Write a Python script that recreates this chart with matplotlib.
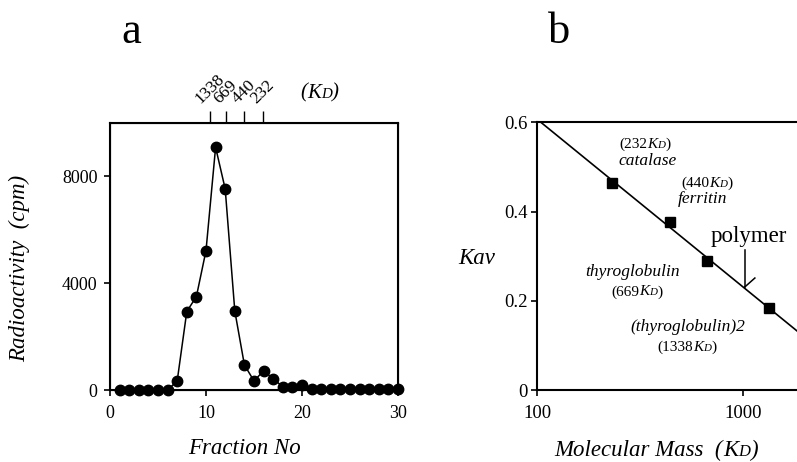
import numpy as np
import matplotlib
matplotlib.use('Agg')
import matplotlib.pyplot as plt
from matplotlib.ticker import NullLocator, FixedLocator, FixedFormatter
from matplotlib.offsetbox import TextArea, HPacker, AnnotationBbox

plt.rcParams['font.family'] = ['Liberation Serif', 'DejaVu Serif']

# panel a: gel filtration profile
fraction = np.arange(1, 31)
cpm = [0, 0, 0, 0, 0, 0, 340, 2940, 3500, 5220, 9090, 7530, 2960, 940, 340,
       720, 420, 125, 100, 190, 30, 30, 30, 30, 30, 30, 30, 30, 30, 30]
marker_fraction = [10.4, 12.05, 14.0, 15.9]
marker_label = ['1338', '669', '440', '232']

# panel b: calibration
std_mass = [232, 440, 669, 1338]
std_kav = [0.465, 0.376, 0.290, 0.183]
std_name = [(345, 0.514, 'catalase'), (638, 0.428, 'ferritin'),
            (292, 0.265, 'thyroglobulin'), (540, 0.141, '(thyroglobulin)2')]
std_size = [(334, 0.551, '(232'), (667, 0.464, '(440'),
            (305, 0.220, '(669'), (533, 0.096, '(1338')]
polymer_mass = 1019
polymer_kav = 0.231


def kd_label(fig_or_ax, x, y, prefix, size, coords, pstyle='normal'):
    # "(...K_D)" with a small capital D sitting on the baseline
    parts = [TextArea(prefix, textprops=dict(size=size, style=pstyle)),
             TextArea('K', textprops=dict(size=size, style='italic')),
             TextArea('D', textprops=dict(size=size * 0.72, style='italic')),
             TextArea(')', textprops=dict(size=size, style=pstyle))]
    box = HPacker(children=parts, align='baseline', pad=0, sep=0)
    ab = AnnotationBbox(box, (x, y), xycoords=coords, frameon=False,
                        box_alignment=(0.5, 0.5), pad=0)
    fig_or_ax.add_artist(ab)


fig = plt.figure(figsize=(7.97, 4.62), dpi=100)

# ---- panel a
ax1 = fig.add_axes([0.138, 0.1558, 0.3614, 0.578])
ax1.plot(fraction, cpm, color='black', lw=1.1, marker='o', ms=7.5,
         mfc='black', mec='black', clip_on=False, zorder=3)
ax1.set_xlim(0, 30)
ax1.set_ylim(0, 10000)
ax1.set_xticks([0, 10, 20, 30])
ax1.set_yticks([0, 4000, 8000])
ax1.tick_params(direction='out', length=4, width=1.2, labelsize=13, pad=5)
ax1.tick_params(axis='x', pad=7)
for s in ax1.spines.values():
    s.set_linewidth(1.5)

top = ax1.twiny()
top.set_xlim(ax1.get_xlim())
top.xaxis.set_major_locator(FixedLocator(marker_fraction))
top.xaxis.set_major_formatter(FixedFormatter(marker_label))
top.xaxis.set_minor_locator(NullLocator())
top.tick_params(axis='x', direction='out', length=8.5, width=1.0,
                labelsize=12.5, pad=3)
for lbl in top.get_xticklabels():
    lbl.set_rotation(45)
    lbl.set_ha('center')
    lbl.set_va('bottom')
kd_label(fig, 320 / 797, 1 - 93 / 462, '(', 15, 'figure fraction', pstyle='italic')

fig.text(131 / 797, 1 - 43 / 462, 'a', ha='center', va='baseline', fontsize=32)
fig.text(245 / 797, 1 - 448 / 462, 'Fraction No', ha='center', va='center',
         fontsize=16.5, style='italic')
fig.text(20 / 797, 1 - 268 / 462, 'Radioactivity  (cpm)', ha='center', va='center',
         fontsize=16.5, style='italic', rotation=90)

# ---- panel b
ax2 = fig.add_axes([0.6738, 0.1558, 0.346, 0.5795])
ax2.set_xscale('log')
xmax = 10 ** (2 + (813 - 537) / 206.3)
ax2.set_xlim(100, xmax)
ax2.set_ylim(0, 0.6)

slope, icpt = np.polyfit(np.log10(std_mass), std_kav, 1)
xs = np.logspace(2, np.log10(xmax), 50)
ax2.plot(xs, slope * np.log10(xs) + icpt, color='black', lw=1.2)
ax2.plot(std_mass, std_kav, ls='none', marker='s', ms=7.5, color='black')

for x, y, t in std_name:
    ax2.text(x, y, t, ha='center', va='center', fontsize=12.5, style='italic')
for x, y, t in std_size:
    kd_label(ax2, x, y, t, 11, 'data')

ax2.text(1067, 0.343, 'polymer', ha='center', va='center', fontsize=16.5)
ax2.plot([polymer_mass, polymer_mass], [0.314, polymer_kav], color='black', lw=1.1)
ax2.plot([polymer_mass, 1140], [polymer_kav, 0.251], color='black', lw=1.1)

ax2.set_xticks([100, 1000])
ax2.set_xticklabels(['100', '1000'])
ax2.xaxis.set_minor_locator(NullLocator())
ax2.set_yticks([0, 0.2, 0.4, 0.6])
ax2.set_yticklabels(['0', '0.2', '0.4', '0.6'])
ax2.tick_params(direction='out', length=4, width=1.2, labelsize=13.5, pad=3)
ax2.tick_params(axis='x', pad=7)
for s in ax2.spines.values():
    s.set_linewidth(1.5)

fig.text(559 / 797, 1 - 43 / 462, 'b', ha='center', va='baseline', fontsize=32)
fig.text(477 / 797, 1 - 258 / 462, 'Kav', ha='center', va='center',
         fontsize=16.5, style='italic')
kd_label(fig, 656 / 797, 1 - 450 / 462, 'Molecular Mass  (', 16.5,
         'figure fraction', pstyle='italic')

fig.savefig('out.png', dpi=100)
